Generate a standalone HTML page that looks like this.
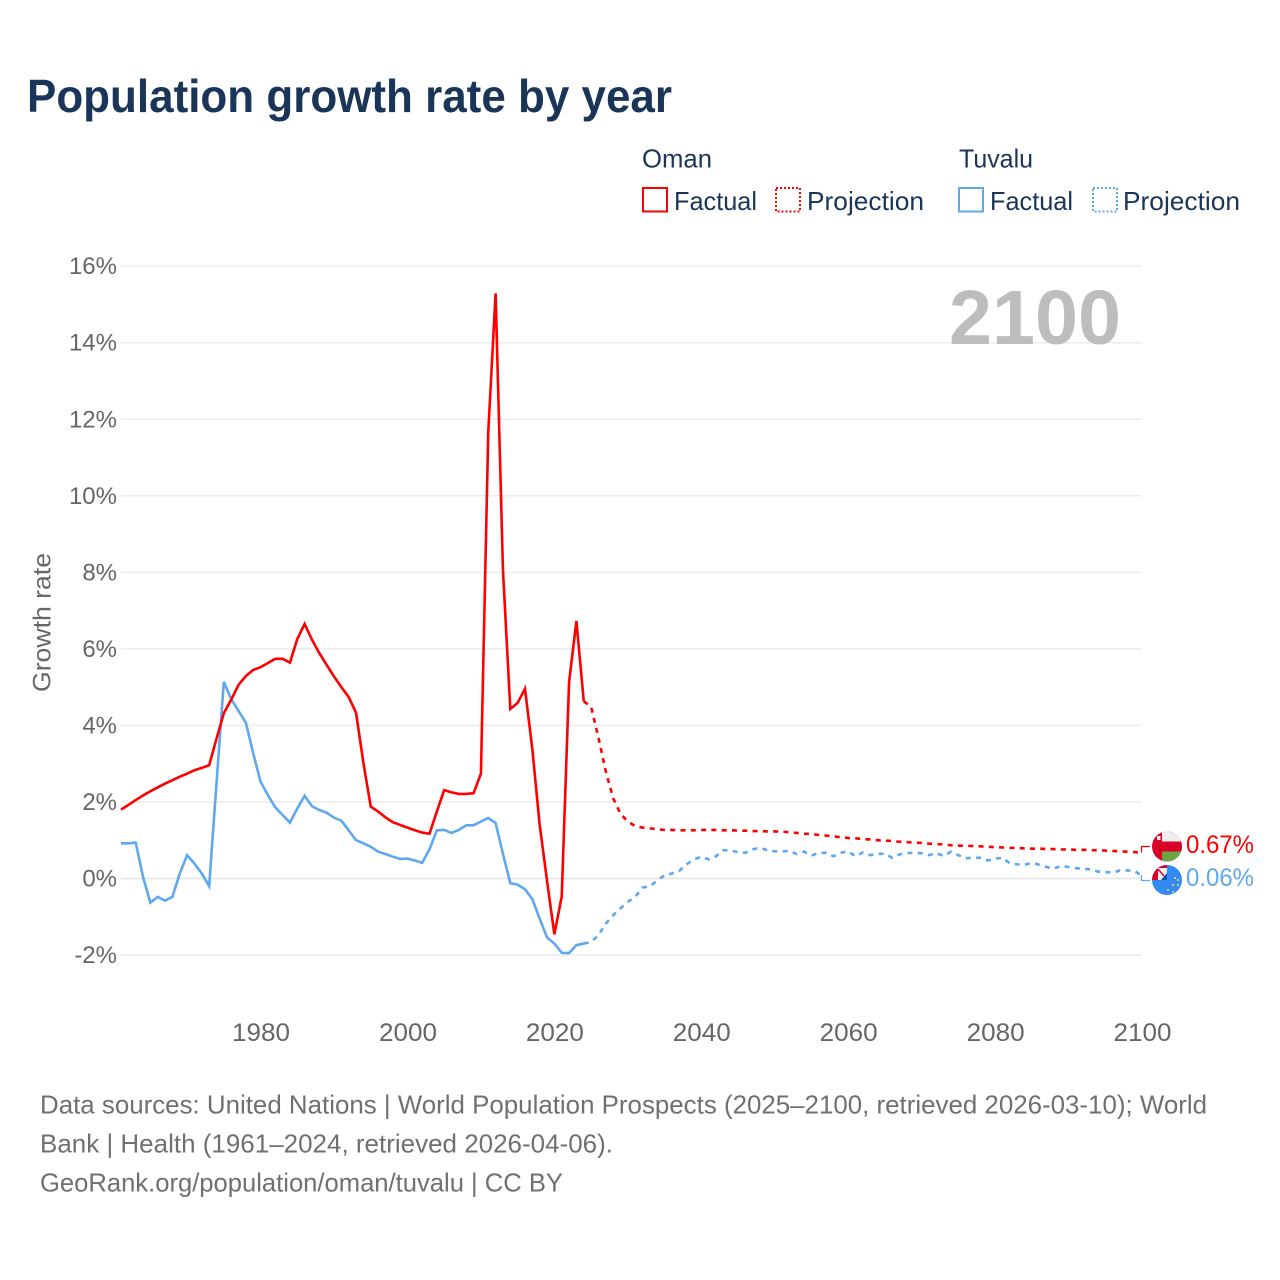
<!DOCTYPE html>
<html lang="en">
<head>
<meta charset="utf-8">
<title>Population growth rate by year</title>
<style>
  html, body { margin: 0; padding: 0; background: #fff; }
  svg { display: block; }
  text { font-family: "Liberation Sans", sans-serif; }
</style>
</head>
<body>
<svg id="chart" xmlns="http://www.w3.org/2000/svg" width="1280" height="1280" viewBox="0 0 1280 1280">
  <rect x="0" y="0" width="1280" height="1280" fill="#ffffff"/>
  <text x="27" y="112" font-size="46" font-weight="700" fill="#1a3557" textLength="645" lengthAdjust="spacingAndGlyphs">Population growth rate by year</text>

  <g font-size="26" fill="#1a3557">
    <text x="642" y="167.5" textLength="70" lengthAdjust="spacingAndGlyphs">Oman</text>
    <text x="959" y="167.5" textLength="74" lengthAdjust="spacingAndGlyphs">Tuvalu</text>
    <g>
      <rect x="643" y="188" width="24" height="23.5" fill="none" stroke="#ff0000" stroke-width="2"/>
      <text x="674" y="210" textLength="83" lengthAdjust="spacingAndGlyphs">Factual</text>
    </g>
    <g>
      <rect x="776" y="188" width="24" height="23.5" fill="none" stroke="#ff0000" stroke-width="2" stroke-dasharray="2 2"/>
      <text x="807" y="210" textLength="117" lengthAdjust="spacingAndGlyphs">Projection</text>
    </g>
    <g>
      <rect x="959" y="188" width="24" height="23.5" fill="none" stroke="#5fa8ee" stroke-width="2"/>
      <text x="990" y="210" textLength="83" lengthAdjust="spacingAndGlyphs">Factual</text>
    </g>
    <g>
      <rect x="1093" y="188" width="24" height="23.5" fill="none" stroke="#5fa8ee" stroke-width="2" stroke-dasharray="2 2"/>
      <text x="1123" y="210" textLength="117" lengthAdjust="spacingAndGlyphs">Projection</text>
    </g>
  </g>

  <g id="grid"></g>
  <g id="yticks"></g>
  <g id="xticks"></g>

  <text transform="translate(50.5,622.5) rotate(-90)" text-anchor="middle" font-size="25" fill="#666666" textLength="139" lengthAdjust="spacingAndGlyphs">Growth rate</text>
  <text x="949" y="344" font-size="77" font-weight="700" fill="#bdbdbd" textLength="172" lengthAdjust="spacingAndGlyphs">2100</text>

  <g id="series"></g>

  <defs>
    <clipPath id="clip-oman"><circle cx="1167" cy="846.5" r="15"/></clipPath>
    <clipPath id="clip-tuvalu"><circle cx="1167" cy="880" r="15"/></clipPath>
  </defs>
  <path d="M1141.5 852.5V846.5H1150" fill="none" stroke="#ff0000" stroke-width="1.2"/>
  <path d="M1141.5 875V880.5H1150" fill="none" stroke="#5fa8ee" stroke-width="1.2"/>
  <g clip-path="url(#clip-oman)">
    <rect x="1152" y="831.5" width="30" height="30" fill="#d80027"/>
    <rect x="1162" y="831.5" width="20" height="10" fill="#eeeeee"/>
    <rect x="1162" y="851.5" width="20" height="10" fill="#6da544"/>
    <rect x="1157" y="836" width="3.5" height="4" fill="#eeeeee"/>
  </g>
  <g clip-path="url(#clip-tuvalu)">
    <rect x="1152" y="865" width="30" height="30" fill="#338af3"/>
    <rect x="1152" y="865" width="15" height="15" fill="#d80027"/>
    <rect x="1158" y="868" width="9" height="12" fill="#eeeeee"/>
    <path d="M1161 880L1167 873V880Z" fill="#0052b4"/>
    <path d="M1158 869L1164 876" stroke="#d80027" stroke-width="1.5"/>
    <g fill="#ffda44">
      <circle cx="1175" cy="878" r="1"/><circle cx="1178" cy="880" r="1"/><circle cx="1173" cy="885" r="1"/>
      <circle cx="1178" cy="885" r="1"/><circle cx="1168" cy="890" r="1"/><circle cx="1173" cy="892" r="1"/>
    </g>
  </g>
  <text x="1186" y="853" font-size="25" fill="#ff0000" textLength="68" lengthAdjust="spacingAndGlyphs">0.67%</text>
  <text x="1186" y="886" font-size="25" fill="#5fa8ee" textLength="68" lengthAdjust="spacingAndGlyphs">0.06%</text>

  <g font-size="26" fill="#707070">
    <text x="40" y="1113.5" textLength="1167" lengthAdjust="spacingAndGlyphs">Data sources: United Nations | World Population Prospects (2025–2100, retrieved 2026-03-10); World</text>
    <text x="40" y="1152.5" textLength="573" lengthAdjust="spacingAndGlyphs">Bank | Health (1961–2024, retrieved 2026-04-06).</text>
    <text x="40" y="1191.5" textLength="523" lengthAdjust="spacingAndGlyphs">GeoRank.org/population/oman/tuvalu | CC BY</text>
  </g>
</svg>
<script>
const yTickValues = [-2, 0, 2, 4, 6, 8, 10, 12, 14, 16];
const xTickYears = [1980, 2000, 2020, 2040, 2060, 2080, 2100];
const firstFactualYear = 1961;
const omanFactual = [
  1.80,1.92,2.05,2.17,2.28,2.38,2.48,2.57,2.66,2.74,
  2.83,2.89,2.96,3.65,4.32,4.67,5.06,5.29,5.45,5.52,
  5.63,5.74,5.74,5.64,6.26,6.65,6.24,5.89,5.58,5.28,
  5.00,4.74,4.33,3.02,1.88,1.75,1.60,1.47,1.40,1.33,
  1.26,1.20,1.17,1.75,2.31,2.25,2.21,2.21,2.23,2.74,
  11.67,15.29,8.05,4.43,4.59,4.96,3.38,1.40,-0.06,-1.46,
  -0.47,5.13,6.73,4.63
];
const tuvaluFactual = [
  0.92,0.92,0.94,0.04,-0.63,-0.48,-0.58,-0.48,0.13,0.61,
  0.39,0.13,-0.20,2.48,5.14,4.69,4.38,4.07,3.27,2.53,
  2.18,1.86,1.66,1.46,1.83,2.16,1.89,1.79,1.72,1.59,
  1.51,1.26,1.00,0.92,0.83,0.70,0.64,0.57,0.51,0.52,
  0.47,0.41,0.76,1.26,1.27,1.19,1.27,1.39,1.39,1.49,
  1.58,1.45,0.64,-0.12,-0.16,-0.28,-0.54,-1.05,-1.54,-1.70,
  -1.94,-1.95,-1.74,-1.70
];
const firstProjectionYear = 2025;
const omanProjection = [
  4.49,3.68,2.80,2.10,1.69,
  1.49,1.37,1.33,1.31,1.29,1.27,1.27,1.26,1.26,1.26,
  1.27,1.27,1.27,1.26,1.26,1.25,1.25,1.24,1.24,1.23,
  1.23,1.22,1.21,1.19,1.17,1.16,1.14,1.12,1.10,1.08,
  1.06,1.05,1.03,1.02,1.00,0.99,0.98,0.96,0.95,0.94,
  0.93,0.91,0.90,0.89,0.87,0.86,0.85,0.85,0.84,0.83,
  0.82,0.81,0.80,0.80,0.79,0.78,0.78,0.77,0.77,0.76,
  0.76,0.75,0.75,0.74,0.74,0.73,0.72,0.71,0.70,0.69,0.67
];
const tuvaluProjection = [
  -1.66,-1.48,-1.18,-0.96,-0.78,
  -0.61,-0.48,-0.24,-0.20,-0.06,0.09,0.13,0.20,0.37,0.50,
  0.57,0.50,0.58,0.74,0.73,0.69,0.67,0.76,0.80,0.74,
  0.71,0.71,0.72,0.64,0.70,0.60,0.67,0.67,0.58,0.67,
  0.71,0.58,0.68,0.61,0.64,0.65,0.54,0.63,0.66,0.67,
  0.66,0.61,0.66,0.59,0.70,0.61,0.53,0.54,0.54,0.47,
  0.52,0.54,0.40,0.37,0.36,0.41,0.36,0.30,0.26,0.33,
  0.30,0.27,0.25,0.24,0.18,0.17,0.15,0.21,0.21,0.20,0.06
];

const SVG_NS = 'http://www.w3.org/2000/svg';
const xScale = year => 121 + (year - 1961) * (1142 - 121) / 139;
const yScale = value => 878.5 - value * 38.27;

const gridGroup = document.getElementById('grid');
const yTickGroup = document.getElementById('yticks');
const xTickGroup = document.getElementById('xticks');
const seriesGroup = document.getElementById('series');

yTickValues.forEach(value => {
  const line = document.createElementNS(SVG_NS, 'line');
  
  
  line.setAttribute('x1', 121);
  line.setAttribute('x2', 1142);
  line.setAttribute('y1', yScale(value));
  line.setAttribute('y2', yScale(value));
  line.setAttribute('stroke', value === 0 ? '#e4e4e4' : '#ececec');
  line.setAttribute('stroke-width', 1.5);
  gridGroup.appendChild(line);

  const label = document.createElementNS(SVG_NS, 'text');
  
  
  label.setAttribute('x', 117);
  label.setAttribute('y', yScale(value) + 8);
  label.setAttribute('text-anchor', 'end');
  label.setAttribute('font-size', 24);
  label.setAttribute('fill', '#666666');
  label.textContent = value + '%';
  yTickGroup.appendChild(label);
});

xTickYears.forEach(year => {
  const label = document.createElementNS(SVG_NS, 'text');
  
  
  label.setAttribute('x', xScale(year) + 0.5);
  label.setAttribute('y', 1041);
  label.setAttribute('text-anchor', 'middle');
  label.setAttribute('font-size', 25);
  label.setAttribute('fill', '#666666');
  label.setAttribute('textLength', 58);
  label.setAttribute('lengthAdjust', 'spacingAndGlyphs');
  label.textContent = year;
  xTickGroup.appendChild(label);
});

function toPoints(values, startYear) {
  return values.map((value, i) => xScale(startYear + i).toFixed(2) + ',' + yScale(value).toFixed(2));
}

function drawLine(points, color, dashed, name) {
  const line = document.createElementNS(SVG_NS, 'polyline');
  
  
  line.setAttribute('points', points.join(' '));
  line.setAttribute('fill', 'none');
  line.setAttribute('stroke', color);
  line.setAttribute('stroke-width', 2.6);
  line.setAttribute('stroke-linejoin', 'miter');
  if (dashed) line.setAttribute('stroke-dasharray', '5 5.3');
  seriesGroup.appendChild(line);
}

const tuvaluFactualPoints = toPoints(tuvaluFactual, firstFactualYear);
const omanFactualPoints = toPoints(omanFactual, firstFactualYear);
const tuvaluProjectionPoints = toPoints(tuvaluProjection, firstProjectionYear);
const omanProjectionPoints = toPoints(omanProjection, firstProjectionYear);

drawLine(tuvaluFactualPoints, '#5fa8ee', false, 'line-tuvalu-factual');
drawLine(omanFactualPoints, '#ff0000', false, 'line-oman-factual');
drawLine([tuvaluFactualPoints[tuvaluFactualPoints.length - 1]].concat(tuvaluProjectionPoints), '#5fa8ee', true, 'line-tuvalu-projection');
drawLine([omanFactualPoints[omanFactualPoints.length - 1]].concat(omanProjectionPoints), '#ff0000', true, 'line-oman-projection');
</script>
</body>
</html>
